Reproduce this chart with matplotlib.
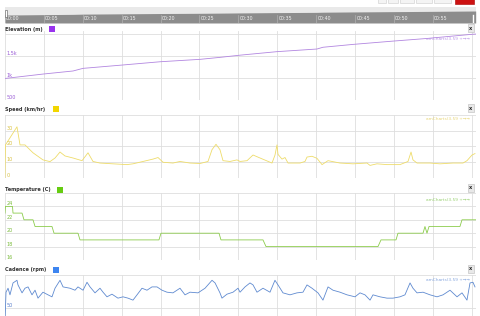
import matplotlib.pyplot as plt
from matplotlib.patches import Rectangle

# time in minutes
elev_t = [0, 4.88, 8.74, 10.03, 15.04, 19.92, 25.06, 27.63, 30.21, 34.96, 40.1,
          40.87, 44.73, 49.87, 54.24, 60.03, 60.5]
elev_v = [990, 1090, 1160, 1220, 1295, 1370, 1425, 1470, 1520, 1600, 1660,
          1700, 1765, 1840, 1900, 1995, 2000]

speed_t = [0, 0.06, 1.54, 1.93, 2.57, 3.6, 4.88, 5.78, 6.43, 7.07, 7.71, 8.74,
           9.9, 10.67, 11.31, 12.21, 13.88, 15.68, 16.45, 17.74, 19.02, 19.67,
           20.31, 21.59, 22.49, 23.78, 25.06, 26.09, 26.61, 27.12, 27.63, 28.02,
           28.92, 29.82, 30.21, 31.11, 31.88, 32.78, 34.32, 34.7, 34.96, 35.09,
           35.6, 35.99, 36.38, 37.92, 38.56, 38.82, 39.46, 40.1, 40.75, 41.52,
           43.06, 44.73, 46.53, 46.92, 47.81, 49.1, 50.77, 51.8, 52.19, 52.44,
           52.96, 54.63, 55.91, 57.58, 58.87, 59.38, 60.03, 60.41]
speed_v = [0, 21, 32.5, 21, 21, 16, 11.5, 10.4, 12.7, 16.5, 14, 12.7,
           11, 16, 10.5, 9.5, 9, 8.5, 9, 10.5, 12, 13,
           10, 9.5, 10.5, 9.5, 9.2, 10.5, 18, 21.4, 18, 11,
           10.5, 11.5, 10.5, 11, 14.6, 12.7, 9.5, 14.5, 21, 15,
           12, 13, 9.5, 9.5, 10.5, 13.3, 13.8, 12.5, 8.5, 11,
           9.5, 9, 9.5, 8, 9, 8.5, 8.5, 10.5, 16.5, 11.5,
           9.5, 9.5, 9, 9.5, 9.5, 11, 14.6, 15.5]

temp_t = [0, 0.06, 0.96, 1.03, 2.19, 2.44, 3.6, 3.86, 6.04, 6.3, 9.38, 9.64,
          19.79, 20.05, 27.51, 27.76, 33.16, 33.55, 47.94, 48.33, 50.26, 50.51,
          53.73, 53.98, 54.24, 54.5, 58.48, 58.74, 60.54]
temp_v = [23, 24, 24, 23, 23, 22, 22, 21, 21, 20, 20, 19,
          19, 20, 20, 19, 19, 18, 18, 19, 19, 20,
          20, 21, 20, 21, 21, 22, 22]

cad_t = [0, 0.13, 0.39, 0.64, 1.03, 1.54, 1.67, 2.19, 2.57, 2.96, 3.47, 3.86,
         4.24, 4.88, 5.53, 6.04, 6.43, 7.07, 7.46, 8.35, 9.0, 9.38, 10.03,
         10.54, 10.93, 11.57, 12.21, 12.6, 13.11, 13.75, 14.52, 15.17, 15.81,
         16.45, 16.97, 17.61, 18.25, 18.89, 19.54, 20.18, 20.82, 21.59, 22.49,
         23.14, 23.78, 24.81, 25.71, 26.61, 27.0, 27.63, 27.89, 28.53, 29.31,
         29.95, 30.21, 30.85, 31.49, 31.88, 32.39, 33.16, 34.06, 34.7, 35.09,
         35.73, 36.63, 37.53, 38.3, 38.82, 39.46, 40.23, 40.87, 41.52, 42.16,
         43.06, 43.96, 44.99, 45.63, 46.27, 46.92, 47.3, 48.2, 49.1, 49.87,
         50.77, 51.41, 52.06, 52.44, 52.96, 53.73, 54.63, 55.53, 56.3, 57.2,
         58.1, 58.74, 59.38, 59.77, 60.15, 60.41]
cad_v = [30, 74, 80, 70, 88, 92, 85, 73, 80, 82, 70, 77,
         65, 74, 70, 67, 80, 92, 82, 80, 77, 82, 77,
         89, 82, 73, 80, 74, 67, 71, 65, 67, 65,
         62, 70, 80, 77, 82, 82, 77, 74, 73, 80,
         70, 74, 73, 80, 92, 88, 73, 65, 71, 74,
         80, 74, 82, 88, 85, 74, 80, 74, 92, 85,
         73, 70, 73, 74, 85, 80, 73, 62, 82, 77,
         74, 70, 67, 73, 70, 62, 70, 67, 65, 65,
         67, 70, 88, 80, 73, 74, 70, 67, 70, 77,
         67, 73, 62, 88, 89, 82]

time_labels = ['00:00', '00:05', '00:10', '00:15', '00:20', '00:25', '00:30',
               '00:35', '00:40', '00:45', '00:50', '00:55']

W, H = 480, 316
fig = plt.figure(figsize=(4.8, 3.16), dpi=100)
fig.patch.set_facecolor('white')


def px_axes(l, t, r, b):
    return fig.add_axes([l / W, 1 - b / H, (r - l) / W, (b - t) / H])


def fx(x):
    return x / W


def fy(y):
    return 1 - y / H


X0, X1 = 5, 476
T_MAX = 60.54
grid_c = '#dedede'

# scrollbar
sb = px_axes(X0, 7, X1, 23)
sb.set_facecolor('#e9e9e9')
sb.fill_between(elev_t, -1000, elev_v, color='#8c8c8c', lw=0)
sb.set_xlim(0, T_MAX)
sb.set_ylim(-1000, 3000)
sb.set_xticks([])
sb.set_yticks([])
for s in sb.spines.values():
    s.set_visible(False)
for i, lab in enumerate(time_labels):
    t = i * 5
    sb.plot([t, t], [-1000, 1000], color='#b0b0b0', lw=0.5)
    sb.text(t + 0.15, 0, lab, fontsize=3.4, color='#f2f2f2', va='center', ha='left')
sb.plot([60.2, 60.2], [-1000, 1000], color='white', lw=1.0)
fig.patches.append(Rectangle((fx(5), fy(17)), 2 / W, 7 / H, transform=fig.transFigure,
                             facecolor='white', edgecolor='#555555', lw=0.4))

# top-right period buttons
for l, r in [(378, 386), (388, 398), (400, 414), (416, 432), (434, 451)]:
    fig.patches.append(Rectangle((fx(l), fy(3)), (r - l) / W, 4 / H, transform=fig.transFigure,
                                 facecolor='#f4f4f4', edgecolor='#cccccc', lw=0.4))
fig.patches.append(Rectangle((fx(455), fy(4)), 19 / W, 5 / H, transform=fig.transFigure,
                             facecolor='#cc1111', edgecolor='#aa0000', lw=0.4))

panels = [
    dict(title='Elevation (m)', sw=(49, 26), swc='#9933ee', top=31, bot=100,
         ylim=(500, 2070), ticks=[500, 1000, 1500, 2000], labels=['500', '1k', '1.5k', ''],
         t=elev_t, v=elev_v, lc='#b286e0', tc='#9a5cd6', wm='#bb96e8', ty=29, xy=28, wy=39),
    dict(title='Speed (km/hr)', sw=(53, 106), swc='#f2d600', top=115, bot=178,
         ylim=(0, 40), ticks=[0, 10, 20, 30, 40], labels=['0', '10', '20', '30', ''],
         t=speed_t, v=speed_v, lc='#eedc6a', tc='#d8c040', wm='#e8d678', ty=109, xy=108, wy=119),
    dict(title='Temperature (C)', sw=(57, 187), swc='#66cc11', top=193, bot=260,
         ylim=(16, 26), ticks=[16, 18, 20, 22, 24, 26], labels=['16', '18', '20', '22', '24', ''],
         t=temp_t, v=temp_v, lc='#8ccc4c', tc='#7abb3a', wm='#98d070', ty=189, xy=188, wy=200),
    dict(title='Cadence (rpm)', sw=(53, 267), swc='#3d85f0', top=275, bot=316,
         ylim=(38, 100), ticks=[50, 100], labels=['50', ''],
         t=cad_t, v=cad_v, lc='#5f8ad0', tc='#5a80cc', wm='#86a6de', ty=270, xy=269, wy=280),
]

for p in panels:
    ax = px_axes(X0, p['top'], X1, p['bot'])
    ax.plot(p['t'], p['v'], color=p['lc'], lw=0.6, zorder=3)
    ax.set_xlim(0, T_MAX)
    ax.set_ylim(*p['ylim'])
    ax.set_xticks(range(0, 61, 5))
    ax.set_yticks(p['ticks'])
    ax.grid(True, color=grid_c, lw=0.6)
    ax.tick_params(length=0, labelbottom=False, labelleft=False)
    for s in ax.spines.values():
        s.set_visible(False)
    for val, lab in zip(p['ticks'], p['labels']):
        ax.text(0.004, val, lab, transform=ax.get_yaxis_transform(), fontsize=3.5,
                color=p['tc'], va='bottom', ha='left')
    fig.text(fx(5), fy(p['ty']), p['title'], fontsize=3.6, fontweight='bold',
             color='#333333', va='center', ha='left')
    sx, sy = p['sw']
    fig.patches.append(Rectangle((fx(sx), fy(sy + 6)), 6 / W, 6 / H, transform=fig.transFigure,
                                 facecolor=p['swc'], edgecolor='none'))
    fig.text(fx(471), fy(p['xy']), 'x', fontsize=3.6, fontweight='bold', color='#222222',
             va='center', ha='center',
             bbox=dict(boxstyle='square,pad=0.25', facecolor='#e8e8e8', edgecolor='#bbbbbb', lw=0.4))
    fig.text(fx(470), fy(p['wy']), 'amCharts(3.59 +→→', fontsize=3.1, color=p['wm'],
             va='center', ha='right')

fig.savefig('out.png', dpi=100)
